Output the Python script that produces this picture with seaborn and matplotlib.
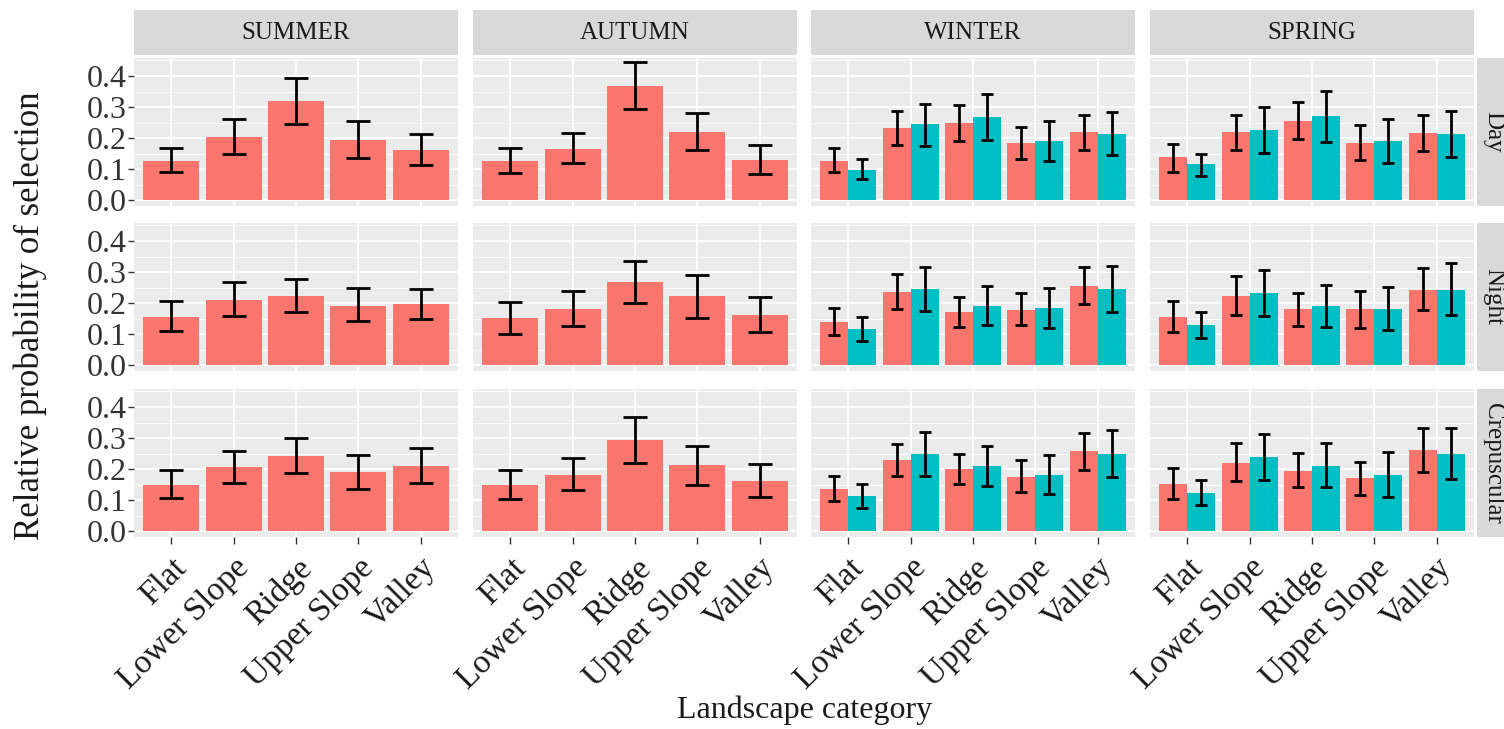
import numpy as np
import pandas as pd
import matplotlib
matplotlib.use("Agg")
import matplotlib.pyplot as plt
import seaborn as sns
from matplotlib.patches import Rectangle
from matplotlib.ticker import MultipleLocator

# ---- data -------------------------------------------------------------
categories = ["Flat", "Lower Slope", "Ridge", "Upper Slope", "Valley"]
seasons = ["SUMMER", "AUTUMN", "WINTER", "SPRING"]
periods = ["Day", "Night", "Crepuscular"]
groups = ["A", "B"]

summer_est = {"Day": [0.126, 0.204, 0.319, 0.193, 0.162],
              "Night": [0.155, 0.210, 0.222, 0.191, 0.197],
              "Crepuscular": [0.149, 0.205, 0.243, 0.190, 0.211]}
summer_lo = {"Day": [0.090, 0.150, 0.244, 0.137, 0.113],
             "Night": [0.110, 0.158, 0.170, 0.141, 0.147],
             "Crepuscular": [0.107, 0.154, 0.188, 0.137, 0.155]}
summer_hi = {"Day": [0.169, 0.262, 0.392, 0.254, 0.214],
             "Night": [0.206, 0.268, 0.277, 0.248, 0.246],
             "Crepuscular": [0.198, 0.258, 0.300, 0.246, 0.268]}

autumn_est = {"Day": [0.126, 0.166, 0.367, 0.218, 0.128],
              "Night": [0.151, 0.180, 0.268, 0.222, 0.161],
              "Crepuscular": [0.148, 0.182, 0.293, 0.213, 0.163]}
autumn_lo = {"Day": [0.088, 0.120, 0.294, 0.160, 0.085],
             "Night": [0.101, 0.126, 0.199, 0.153, 0.107],
             "Crepuscular": [0.102, 0.133, 0.220, 0.148, 0.111]}
autumn_hi = {"Day": [0.169, 0.215, 0.445, 0.280, 0.177],
             "Night": [0.202, 0.240, 0.337, 0.290, 0.220],
             "Crepuscular": [0.198, 0.236, 0.368, 0.275, 0.217]}

winter_a_est = {"Day": [0.127, 0.231, 0.249, 0.183, 0.219],
                "Night": [0.139, 0.236, 0.172, 0.179, 0.254],
                "Crepuscular": [0.137, 0.230, 0.200, 0.174, 0.258]}
winter_a_lo = {"Day": [0.090, 0.177, 0.191, 0.131, 0.163],
               "Night": [0.098, 0.180, 0.123, 0.128, 0.196],
               "Crepuscular": [0.097, 0.177, 0.151, 0.127, 0.197]}
winter_a_hi = {"Day": [0.169, 0.287, 0.305, 0.235, 0.275],
               "Night": [0.183, 0.293, 0.220, 0.234, 0.315],
               "Crepuscular": [0.179, 0.282, 0.249, 0.228, 0.316]}

winter_b_est = {"Day": [0.097, 0.244, 0.267, 0.191, 0.213],
                "Night": [0.115, 0.246, 0.192, 0.185, 0.244],
                "Crepuscular": [0.112, 0.248, 0.211, 0.180, 0.247]}
winter_b_lo = {"Day": [0.068, 0.174, 0.194, 0.125, 0.144],
               "Night": [0.077, 0.173, 0.130, 0.120, 0.170],
               "Crepuscular": [0.076, 0.177, 0.145, 0.118, 0.173]}
winter_b_hi = {"Day": [0.132, 0.311, 0.342, 0.255, 0.283],
               "Night": [0.154, 0.317, 0.256, 0.249, 0.321],
               "Crepuscular": [0.151, 0.320, 0.275, 0.246, 0.326]}

spring_a_est = {"Day": [0.138, 0.218, 0.256, 0.183, 0.217],
                "Night": [0.155, 0.224, 0.180, 0.180, 0.242],
                "Crepuscular": [0.153, 0.221, 0.195, 0.170, 0.262]}
spring_a_lo = {"Day": [0.091, 0.162, 0.196, 0.129, 0.159],
               "Night": [0.108, 0.161, 0.126, 0.119, 0.176],
               "Crepuscular": [0.105, 0.162, 0.141, 0.117, 0.190]}
spring_a_hi = {"Day": [0.180, 0.273, 0.316, 0.241, 0.275],
               "Night": [0.205, 0.288, 0.234, 0.238, 0.312],
               "Crepuscular": [0.202, 0.284, 0.252, 0.223, 0.333]}

spring_b_est = {"Day": [0.115, 0.227, 0.270, 0.190, 0.212],
                "Night": [0.128, 0.234, 0.192, 0.182, 0.242],
                "Crepuscular": [0.122, 0.238, 0.209, 0.180, 0.247]}
spring_b_lo = {"Day": [0.077, 0.152, 0.186, 0.119, 0.140],
               "Night": [0.088, 0.158, 0.123, 0.114, 0.161],
               "Crepuscular": [0.084, 0.165, 0.141, 0.111, 0.168]}
spring_b_hi = {"Day": [0.149, 0.301, 0.351, 0.261, 0.286],
               "Night": [0.170, 0.308, 0.258, 0.253, 0.328],
               "Crepuscular": [0.165, 0.313, 0.284, 0.254, 0.333]}

series = [
    ("SUMMER", "A", summer_est, summer_lo, summer_hi),
    ("AUTUMN", "A", autumn_est, autumn_lo, autumn_hi),
    ("WINTER", "A", winter_a_est, winter_a_lo, winter_a_hi),
    ("WINTER", "B", winter_b_est, winter_b_lo, winter_b_hi),
    ("SPRING", "A", spring_a_est, spring_a_lo, spring_a_hi),
    ("SPRING", "B", spring_b_est, spring_b_lo, spring_b_hi),
]

rows = []
for season, grp, est, lo, hi in series:
    for period in periods:
        for cat, e, l, h in zip(categories, est[period], lo[period], hi[period]):
            rows.append(dict(season=season, group=grp, period=period,
                             category=cat, est=e, lo=l, hi=h))
df = pd.DataFrame(rows)

# ---- style ------------------------------------------------------------
sns.set_theme(style="white")
plt.rcParams["font.family"] = ["Liberation Serif", "DejaVu Serif"]

RED, TEAL = "#F8766D", "#00BFC4"
PANEL_BG, STRIP_BG = "#EBEBEB", "#D9D9D9"
TXT = "#1A1A1A"

W, H = 1504, 729
fig = plt.figure(figsize=(W / 100, H / 100), dpi=100)
fig.patch.set_facecolor("white")


def fx(px):
    return px / W


def fy(py):
    return 1 - py / H


col_left = [134, 473, 811, 1150]
panel_w = 324
row_top = [58, 223, 389]
panel_h = 148
xlim = (-0.6, 4.6)
ylim = (-0.019, 0.458)
px_per_unit = panel_w / (xlim[1] - xlim[0])

for r, period in enumerate(periods):
    for c, season in enumerate(seasons):
        L, T = col_left[c], row_top[r]
        ax = fig.add_axes([fx(L), fy(T + panel_h), panel_w / W, panel_h / H])
        ax.set_facecolor(PANEL_BG)
        sub = df[(df.season == season) & (df.period == period)]
        present = [g for g in groups if g in set(sub.group)]
        if len(present) == 1:
            sns.barplot(data=sub, x="category", y="est", order=categories,
                        color=RED, width=0.9, saturation=1, errorbar=None,
                        linewidth=0, ax=ax)
        else:
            sns.barplot(data=sub, x="category", y="est", order=categories,
                        hue="group", hue_order=groups, palette=[RED, TEAL],
                        width=0.9, dodge=True, saturation=1, errorbar=None,
                        linewidth=0, legend=False, ax=ax)

        # error bars at the centre of each drawn bar
        for cont, grp in zip(ax.containers, present):
            g = sub[sub.group == grp].set_index("category").loc[categories]
            bars = sorted(cont.patches, key=lambda p: p.get_x())
            xs = [b.get_x() + b.get_width() / 2 for b in bars]
            bw = bars[0].get_width()
            cap = 0.42 * bw * px_per_unit * 0.72 / 2
            ax.errorbar(xs, g["est"].values,
                        yerr=[g["est"].values - g["lo"].values,
                              g["hi"].values - g["est"].values],
                        fmt="none", ecolor="black", elinewidth=2.0,
                        capsize=cap, capthick=2.0, zorder=5)

        ax.set_xlim(*xlim)
        ax.set_ylim(*ylim)
        ax.yaxis.set_major_locator(MultipleLocator(0.1))
        ax.yaxis.set_minor_locator(MultipleLocator(0.05))
        ax.set_axisbelow(True)
        ax.grid(which="major", axis="both", color="white", linewidth=1.3)
        ax.grid(which="minor", axis="y", color="white", linewidth=0.6)
        for s in ax.spines.values():
            s.set_visible(False)
        ax.set_xlabel("")
        ax.set_ylabel("")
        ax.tick_params(which="minor", length=0)
        if c == 0:
            ax.tick_params(axis="y", which="major", length=4, width=1,
                           color="#333333", labelsize=23, labelcolor="#333333",
                           pad=1, left=True)
            ax.set_yticks([0.0, 0.1, 0.2, 0.3, 0.4])
            ax.set_yticklabels(["0.0", "0.1", "0.2", "0.3", "0.4"])
        else:
            ax.tick_params(axis="y", which="major", length=0, labelleft=False)
        if r == len(periods) - 1:
            ax.tick_params(axis="x", which="major", length=5, width=1,
                           color="#333333", labelsize=24, labelcolor=TXT,
                           pad=6, bottom=True)
            for lab in ax.get_xticklabels():
                lab.set_rotation(45)
                lab.set_ha("right")
                lab.set_va("top")
                lab.set_rotation_mode("anchor")
        else:
            ax.tick_params(axis="x", which="major", length=0, labelbottom=False)

        # season strips along the top
        if r == 0:
            fig.add_artist(Rectangle((fx(L), fy(55)), panel_w / W, 45 / H,
                                     transform=fig.transFigure,
                                     facecolor=STRIP_BG, edgecolor="none"))
            fig.text(fx(L + panel_w / 2), fy(33), season, ha="center",
                     va="center", fontsize=18, color=TXT)
    # period strips along the right edge
    fig.add_artist(Rectangle((fx(1477), fy(row_top[r] + panel_h)), 40 / W,
                             panel_h / H, transform=fig.transFigure,
                             facecolor=STRIP_BG, edgecolor="none"))
    fig.text(fx(1493), fy(row_top[r] + panel_h / 2), period, rotation=270,
             ha="center", va="center", fontsize=18, color=TXT)

fig.text(fx(30), fy(316), "Relative probability of selection", rotation=90,
         ha="center", va="center", fontsize=25, color=TXT)
fig.text(fx(805), fy(710), "Landscape category", ha="center", va="center",
         fontsize=23, color=TXT)

fig.savefig("out.png", dpi=100, facecolor="white")
